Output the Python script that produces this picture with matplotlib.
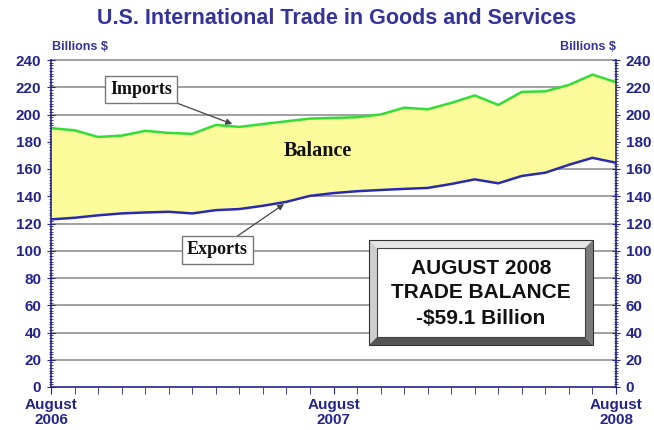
import matplotlib
matplotlib.use("Agg")
import matplotlib.pyplot as plt
from matplotlib.patches import Polygon
from matplotlib.ticker import MultipleLocator, FixedLocator

plt.rcParams['font.family'] = ['Liberation Sans', 'DejaVu Sans']

months = list(range(25))  # Aug 2006 .. Aug 2008
imports = [190.0, 188.4, 183.5, 184.5, 188.0, 186.5, 185.8, 192.3, 190.9, 193.0,
           195.0, 197.0, 197.5, 198.0, 200.0, 205.0, 203.8, 208.5, 214.0, 207.0,
           216.6, 217.0, 221.7, 229.3, 223.7]
exports = [123.0, 124.2, 126.0, 127.4, 128.1, 128.6, 127.4, 129.8, 130.6, 133.0,
           135.9, 140.3, 142.3, 143.7, 144.6, 145.4, 146.1, 149.0, 152.4, 149.5,
           154.9, 157.3, 163.1, 168.2, 164.6]
xtick_pos = [0, 12, 24]
xtick_labels = ["August\n2006", "August\n2007", "August\n2008"]
yticks = list(range(0, 241, 20))

NAVY = '#24248C'
TITLE = '#333399'

W, H = 654, 430
fig = plt.figure(figsize=(W / 100, H / 100), dpi=100)
fig.patch.set_facecolor('white')

def fx(px):
    return px / W

def fy(py):
    return 1 - py / H

ax = fig.add_axes([fx(51), fy(387), fx(616) - fx(51), fy(60) - fy(387)])
ax.set_xlim(0, 24)
ax.set_ylim(0, 240)

for y in yticks[1:]:
    ax.axhline(y, color='#9a9a9a', lw=1.3, zorder=1, clip_on=False)

ax.fill_between(months, exports, imports, color='#FBFB9C', zorder=2, lw=0)
ax.plot(months, imports, color='#33DD33', lw=1.8, zorder=3)
ax.plot(months, exports, color='#2A2AB0', lw=1.8, zorder=3)

ax.spines['top'].set_visible(False)
for s in ['left', 'right', 'bottom']:
    ax.spines[s].set_color(NAVY)
    ax.spines[s].set_linewidth(1.2)
    ax.spines[s].set_zorder(4)

ax.yaxis.set_major_locator(FixedLocator(yticks))
ax.yaxis.set_minor_locator(MultipleLocator(2))
ax.set_yticklabels([str(v) for v in yticks])
ax.tick_params(axis='y', which='major', direction='inout', length=6, color=NAVY,
               labelcolor=NAVY, labelsize=11, left=True, right=True,
               labelleft=True, labelright=True, pad=4)
ax.tick_params(axis='y', which='minor', direction='inout', length=3, color=NAVY,
               left=True, right=True, width=0.6)
for lab in ax.get_yticklabels():
    lab.set_fontweight('bold')

ax.xaxis.set_major_locator(FixedLocator(xtick_pos))
ax.xaxis.set_minor_locator(MultipleLocator(1))
ax.set_xticklabels(xtick_labels)
ax.tick_params(axis='x', which='major', direction='out', length=5, color=NAVY,
               labelcolor=NAVY, labelsize=11, pad=3)
ax.tick_params(axis='x', which='minor', direction='out', length=5, color=NAVY)
for lab in ax.get_xticklabels():
    lab.set_fontweight('bold')
    lab.set_linespacing(1.1)

fig.text(fx(337), fy(18), "U.S. International Trade in Goods and Services",
         ha='center', va='center', fontsize=15.5, fontweight='bold', color=TITLE)
fig.text(fx(52), fy(47), "Billions $", ha='left', va='center', fontsize=9,
         fontweight='bold', color=TITLE)
fig.text(fx(616), fy(47), "Billions $", ha='right', va='center', fontsize=9,
         fontweight='bold', color=TITLE)

serif = ['Liberation Serif', 'DejaVu Serif']
box = dict(boxstyle='square,pad=0.28', fc='white', ec='#777777', lw=1.0)
arrow = dict(arrowstyle='-|>', color='#444444', lw=0.9, mutation_scale=9,
             shrinkA=0, shrinkB=0)

ax.annotate("Imports", xy=(7.7, 193.0), xytext=(0.159, 0.91),
            textcoords='axes fraction', ha='center', va='center',
            fontsize=13, fontweight='bold', family=serif, color='#111111',
            bbox=box, arrowprops=arrow, zorder=6)
ax.annotate("Exports", xy=(9.9, 134.3), xytext=(0.294, 0.419),
            textcoords='axes fraction', ha='center', va='center',
            fontsize=13, fontweight='bold', family=serif, color='#111111',
            bbox=box, arrowprops=arrow, zorder=6)
ax.text(0.473, 0.722, "Balance", transform=ax.transAxes, ha='center', va='center',
        fontsize=14.5, fontweight='bold', family=serif, color='#111111', zorder=6)

# bevelled box
x0, x1, y0, y1 = 369, 593, 240, 345
b = 8
def P(px, py):
    return (fx(px), fy(py))
outer = [P(x0, y0), P(x1, y0), P(x1, y1), P(x0, y1)]
inner = [P(x0 + b, y0 + b), P(x1 - b, y0 + b), P(x1 - b, y1 - b), P(x0 + b, y1 - b)]
faces = [
    ([outer[0], outer[1], inner[1], inner[0]], '#e6e6e6'),  # top
    ([outer[0], inner[0], inner[3], outer[3]], '#cfcfcf'),  # left
    ([outer[1], outer[2], inner[2], inner[1]], '#7a7a7a'),  # right
    ([outer[3], inner[3], inner[2], outer[2]], '#555555'),  # bottom
]
for pts, c in faces:
    fig.add_artist(Polygon(pts, closed=True, fc=c, ec='none', transform=fig.transFigure, zorder=10))
fig.add_artist(Polygon(inner, closed=True, fc='white', ec='#444444', lw=0.8,
                       transform=fig.transFigure, zorder=11))
fig.add_artist(Polygon(outer, closed=True, fill=False, ec='#333333', lw=0.8,
                       transform=fig.transFigure, zorder=12))
for txt, py in [("AUGUST 2008", 269), ("TRADE BALANCE", 293), ("-$59.1 Billion", 318)]:
    fig.text(fx(481), fy(py), txt, ha='center', va='center', fontsize=15,
             fontweight='bold', color='#111111', zorder=13)

fig.savefig("out.png", dpi=100, facecolor='white')
